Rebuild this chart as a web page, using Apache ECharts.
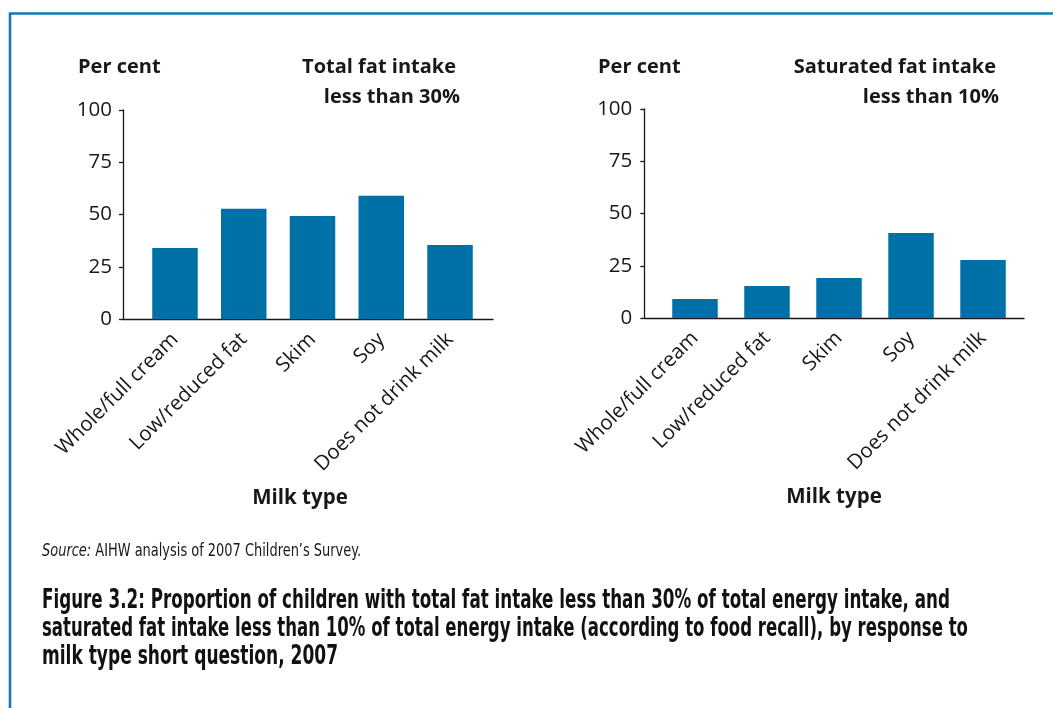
<!DOCTYPE html>
<html><head><meta charset="utf-8">
<script src="https://cdn.jsdelivr.net/npm/echarts@6/dist/echarts.min.js"></script>
<style>html,body{margin:0;padding:0;background:#fff}#c{width:1053px;height:708px}</style>
</head><body><div id="c"></div>
<script>
// ---- data ----
const categories = ['Whole/full cream', 'Low/reduced fat', 'Skim', 'Soy', 'Does not drink milk'];
const totalFatUnder30 = [34.1, 52.8, 49.4, 59.0, 35.5];
const satFatUnder10 = [9.1, 15.3, 19.1, 40.7, 27.8];
const yTickValues = [0, 25, 50, 75, 100];
const leftTitle = ['Total fat intake', 'less than 30%'];
const rightTitle = ['Saturated fat intake', 'less than 10%'];
const yName = 'Per cent';
const xName = 'Milk type';
const sourceLabel = 'Source:';
const sourceText = ' AIHW analysis of 2007 Children\u2019s Survey.';
const captionLines = [
  'Figure 3.2: Proportion of children with total fat intake less than 30% of total energy intake, and',
  'saturated fat intake less than 10% of total energy intake (according to food recall), by response to',
  'milk type short question, 2007'
];

// ---- style ----
const INK = '#1a1718';
const BAR = '#0071a6';
const FRAME = '#1479b8';
const SANS = "'Open Sans', 'Noto Sans', sans-serif";
const COND = "'Liberation Sans Narrow', 'DejaVu Sans Condensed', 'Noto Sans', sans-serif";

const mctx = document.createElement('canvas').getContext('2d');
function measure(text, font) { mctx.font = font; return mctx.measureText(text).width; }

const chart = echarts.init(document.getElementById('c'), null, {renderer: 'canvas'});

function xAxisDef(gridIndex, min, max) {
  return {
    type: 'value', gridIndex, min, max,
    axisLine: {show: true, onZero: false, lineStyle: {color: INK, width: 1.3}},
    axisTick: {show: false},
    splitLine: {show: false},
    axisLabel: {
      customValues: categories.map((c, i) => i),
      formatter: v => categories[Math.round(v)],
      rotate: 45, fontSize: 20.5, fontFamily: SANS, color: INK, margin: 17
    }
  };
}
function yAxisDef(gridIndex, margin) {
  return {
    type: 'value', gridIndex, min: yTickValues[0], max: yTickValues[yTickValues.length - 1],
    interval: yTickValues[1] - yTickValues[0],
    axisLine: {show: true, onZero: false, lineStyle: {color: INK, width: 1.3}},
    axisTick: {show: true, length: 4, lineStyle: {color: INK, width: 1.3}},
    splitLine: {show: false},
    axisLabel: {fontSize: 20.5, fontFamily: SANS, color: INK, margin}
  };
}
function barSeries(idx, values) {
  return {
    type: 'bar', xAxisIndex: idx, yAxisIndex: idx,
    data: values.map((v, i) => [i, v]),
    barWidth: 45.5,
    itemStyle: {color: BAR},
    silent: true
  };
}

function txt(text, x, y, opt) {
  return {type: 'text', x, y, silent: true,
    style: Object.assign({text, fill: INK, verticalAlign: 'middle'}, opt)};
}

const captionFont = "bold 26px " + COND;
const captionTargets = [908, 926, 296];
const TF = "bold 20px " + SANS;
const graphics = [
  {type: 'polyline', silent: true, shape: {points: [[10, 708], [10, 13.5], [1053, 13.5]]},
   style: {stroke: FRAME, lineWidth: 2.6, fill: null}},
  txt(yName, 78, 67, {font: TF}),
  txt(leftTitle[0], 456, 67, {font: TF, align: 'right'}),
  txt(leftTitle[1], 460, 97, {font: TF, align: 'right'}),
  txt(yName, 598, 67, {font: TF}),
  txt(rightTitle[0], 996, 67, {font: TF, align: 'right'}),
  txt(rightTitle[1], 999, 97, {font: TF, align: 'right'}),
  txt(xName, 300, 498, {font: "bold 20.5px " + SANS, align: 'center'}),
  txt(xName, 834, 497, {font: "bold 20.5px " + SANS, align: 'center'})
];
// source line
(function () {
  const fi = "italic 17px " + COND, fn = "17px " + COND;
  const w = measure(sourceLabel, fi) + measure(sourceText, fn);
  graphics.push({type: 'text', x: 42, y: 552, scaleX: 319 / w, silent: true,
    style: {text: '{i|' + sourceLabel + '}{n|' + sourceText + '}', verticalAlign: 'middle', fill: INK,
      rich: {i: {font: fi, fill: INK}, n: {font: fn, fill: INK}}}});
})();
captionLines.forEach((line, k) => {
  const w = measure(line, captionFont);
  graphics.push({type: 'text', x: 42, y: 601 + k * 28.3, scaleX: captionTargets[k] / w, silent: true,
    style: {text: line, font: captionFont, fill: '#111', verticalAlign: 'middle'}});
});

chart.setOption({
  animation: false,
  backgroundColor: '#fff',
  grid: [
    {left: 123, top: 110, width: 370, height: 209.3, containLabel: false},
    {left: 644.3, top: 109, width: 379.7, height: 209, containLabel: false}
  ],
  xAxis: [xAxisDef(0, -0.756, 4.625), xAxisDef(1, -0.704, 4.569)],
  yAxis: [yAxisDef(0, 11), yAxisDef(1, 12)],
  series: [barSeries(0, totalFatUnder30), barSeries(1, satFatUnder10)],
  graphic: graphics
});
</script></body></html>
